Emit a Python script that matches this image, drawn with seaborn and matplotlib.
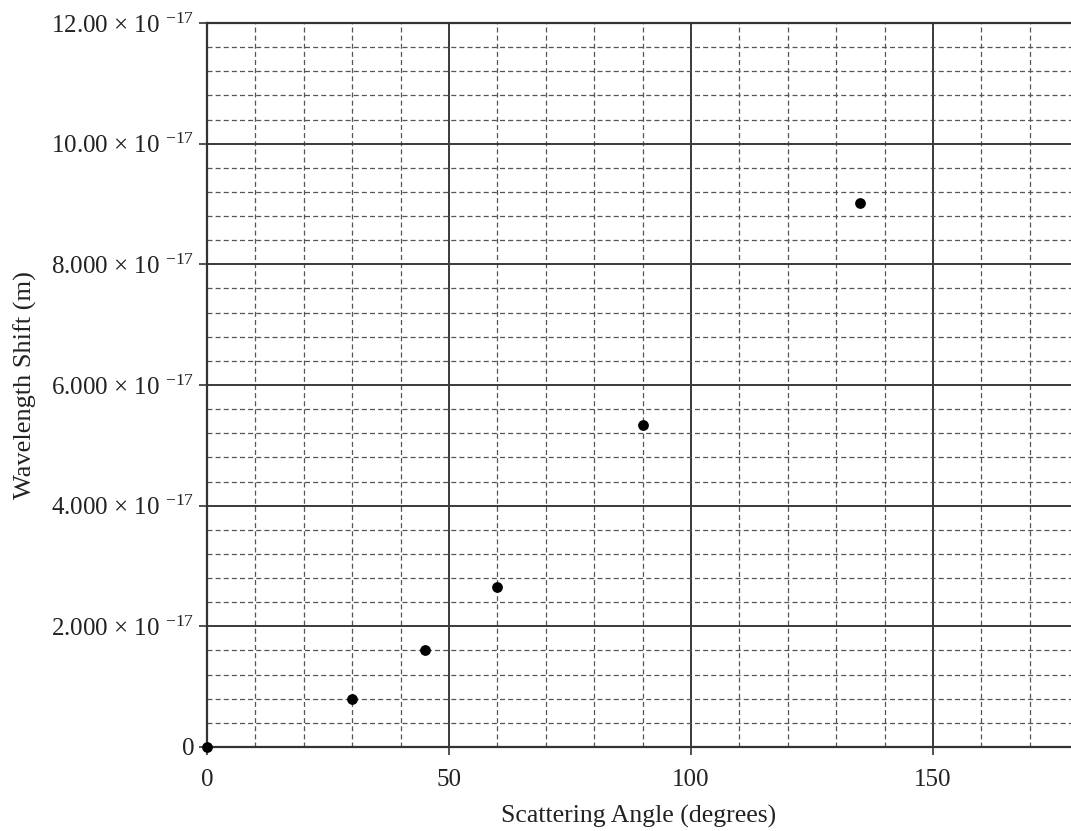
import matplotlib
matplotlib.use("Agg")
import matplotlib.pyplot as plt
from matplotlib.ticker import MultipleLocator
import pandas as pd
import seaborn as sns

# data
angles = [0, 30, 45, 60, 90, 135]
shifts = [0.0, 0.80e-17, 1.60e-17, 2.65e-17, 5.33e-17, 9.02e-17]

y_ticks = [0, 2e-17, 4e-17, 6e-17, 8e-17, 10e-17, 12e-17]
y_tick_labels = [
    "0",
    "2.000 × 10 $^{-17}$",
    "4.000 × 10 $^{-17}$",
    "6.000 × 10 $^{-17}$",
    "8.000 × 10 $^{-17}$",
    "10.00 × 10 $^{-17}$",
    "12.00 × 10 $^{-17}$",
]
x_ticks = [0, 50, 100, 150]

df = pd.DataFrame({"angle": angles, "shift": shifts})

sns.set_style("white")
plt.rcParams["font.family"] = ["Liberation Serif", "DejaVu Serif"]
plt.rcParams["mathtext.fontset"] = "custom"
plt.rcParams["mathtext.rm"] = "Liberation Serif"
plt.rcParams["mathtext.it"] = "Liberation Serif:italic"

fig = plt.figure(figsize=(10.71, 8.31), dpi=100)
ax = fig.add_axes([0.1933, 0.1011, 0.8067, 0.8712])

sns.scatterplot(data=df, x="angle", y="shift", color="black", s=60,
                edgecolor="black", linewidth=0, zorder=5, clip_on=False, ax=ax)

ax.set_xlim(0, 178.5)
ax.set_ylim(0, 12e-17)
ax.set_xticks(x_ticks, [str(t) for t in x_ticks])
ax.set_yticks(y_ticks, y_tick_labels)
ax.xaxis.set_minor_locator(MultipleLocator(10))
ax.yaxis.set_minor_locator(MultipleLocator(0.4e-17))

ax.grid(which="major", color="#3a3a3a", linestyle="-", linewidth=1.4)
ax.grid(which="minor", color="#555555", linestyle=(0, (4, 2.5)), linewidth=0.9)
ax.set_axisbelow(True)

ax.tick_params(axis="both", which="major", direction="out", length=6,
               width=1.2, color="#333333", labelsize=18, labelcolor="#222222",
               left=True, bottom=True)
ax.tick_params(axis="y", which="major", pad=3)
ax.tick_params(axis="x", which="major", pad=10)
ax.tick_params(axis="both", which="minor", length=0)

for side in ["left", "bottom", "top"]:
    ax.spines[side].set_color("#333333")
    ax.spines[side].set_linewidth(1.6)
ax.spines["right"].set_visible(False)

ax.set_xlabel("Scattering Angle (degrees)", fontsize=18.5, color="#222222", labelpad=10)
ax.set_ylabel("Wavelength Shift (m)", fontsize=19, color="#222222", labelpad=10)

fig.savefig("out.png", dpi=100)
